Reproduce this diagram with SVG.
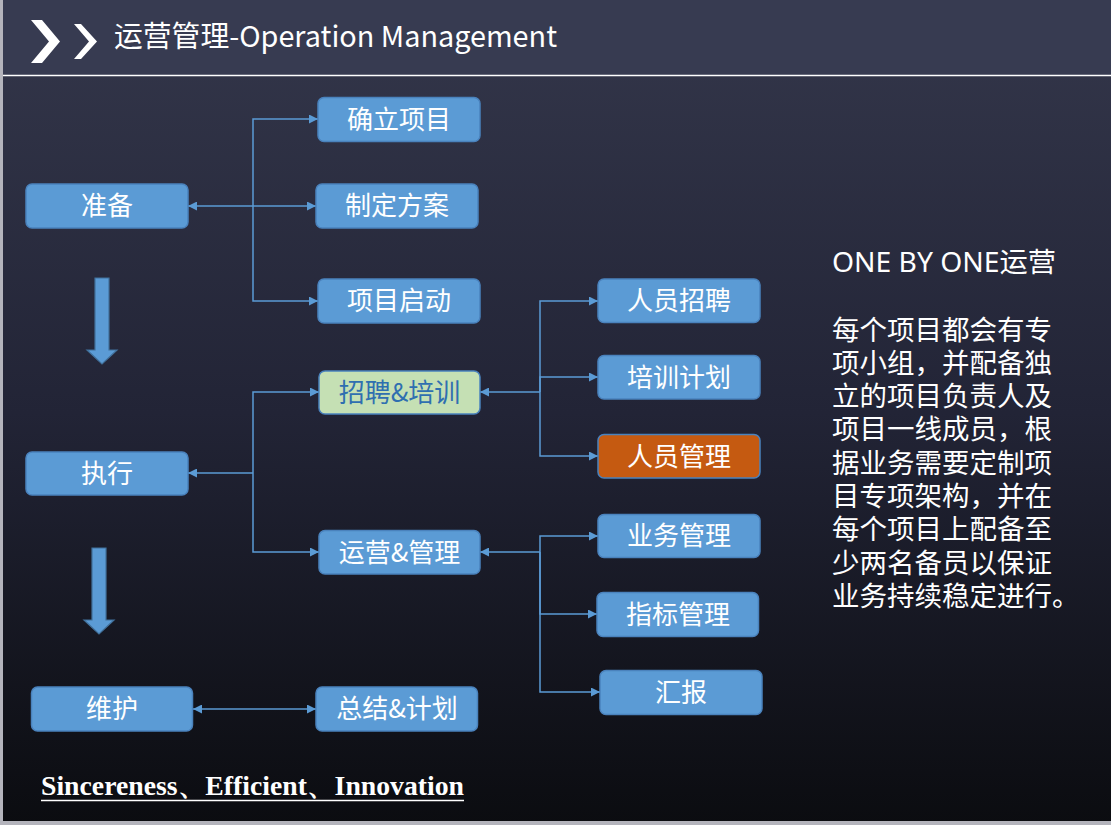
<svg xmlns="http://www.w3.org/2000/svg" width="1111" height="825" viewBox="0 0 1111 825">
<style>
.box{fill:#5b9bd5;stroke:#4a82bd;stroke-width:1.5}
.lbl{font-family:"Noto Sans CJK SC","Noto Sans",sans-serif;font-size:26px;fill:#ffffff;text-anchor:middle}
.con{fill:none;stroke:#5b9bd5;stroke-width:1.5}
.para{font-family:"Liberation Sans","Noto Sans CJK SC",sans-serif;font-size:27.5px;fill:#ffffff}
.down{fill:#5b9bd5;stroke:#41719c;stroke-width:1.2}
</style>
<defs>
<linearGradient id="bg" x1="0" y1="0" x2="0" y2="1">
<stop offset="0" stop-color="#34374b"/>
<stop offset="0.5" stop-color="#222436"/>
<stop offset="1" stop-color="#0b0c10"/>
</linearGradient>
<marker id="ah" viewBox="0 0 10 10" refX="10" refY="5" markerWidth="10" markerHeight="9" orient="auto-start-reverse" markerUnits="userSpaceOnUse">
<path d="M0,0 L10,5 L0,10 z" fill="#5b9bd5"/>
</marker>
</defs>
<rect x="0" y="0" width="1111" height="825" fill="url(#bg)"/>
<rect x="0" y="0" width="1111" height="75" fill="#373b51"/>
<line x1="3" y1="75.5" x2="1111" y2="75.5" stroke="#ffffff" stroke-width="1.5"/>
<rect x="0" y="0" width="3" height="825" fill="#b4b4bc"/>
<rect x="0" y="821" width="1111" height="4" fill="#b4b4bc"/>
<g id="header">
<polygon points="31,20 42,20 60,41.5 42,63 31,63 49,41.5" fill="#ffffff"/>
<polygon points="74,24 81,24 97,41.5 81,59 74,59 89,41.5" fill="#ffffff"/>
<text x="114" y="47" font-family="'Noto Sans CJK SC','Noto Sans',sans-serif" font-size="29" fill="#ffffff" textLength="443" lengthAdjust="spacingAndGlyphs">运营管理-Operation Management</text>
</g>
<g id="connectors">
<line class="con" x1="188" y1="206" x2="316" y2="206" marker-start="url(#ah)" marker-end="url(#ah)"/>
<path class="con" d="M253,206 V119 H318" marker-end="url(#ah)"/>
<path class="con" d="M253,206 V301 H318" marker-end="url(#ah)"/>
<path class="con" d="M253,473 H188" marker-end="url(#ah)"/>
<path class="con" d="M253,473 V392 H319" marker-end="url(#ah)"/>
<path class="con" d="M253,473 V552 H319" marker-end="url(#ah)"/>
<path class="con" d="M540,392 H480" marker-end="url(#ah)"/>
<path class="con" d="M540,392 V301 H598" marker-end="url(#ah)"/>
<path class="con" d="M540,392 V377 H598" marker-end="url(#ah)"/>
<path class="con" d="M540,392 V456 H598" marker-end="url(#ah)"/>
<path class="con" d="M540,552 H480" marker-end="url(#ah)"/>
<path class="con" d="M540,552 V536 H598" marker-end="url(#ah)"/>
<path class="con" d="M540,552 V614 H597" marker-end="url(#ah)"/>
<path class="con" d="M540,552 V692 H600" marker-end="url(#ah)"/>
<line class="con" x1="193" y1="709" x2="316" y2="709" marker-start="url(#ah)" marker-end="url(#ah)"/>
</g>
<g id="arrow-down-1"><polygon class="down" points="95,278 109,278 109,350 117,350 102,364 87,350 95,350"/></g>
<g id="arrow-down-2"><polygon class="down" points="92,548 106,548 106,620 114,620 99,634 84,620 92,620"/></g>
<g id="n-zhunbei"><rect class="box" x="26" y="184" width="162" height="44" rx="6"/><text class="lbl" x="107" y="215">准备</text></g>
<g id="n-queli"><rect class="box" x="318" y="97.5" width="162" height="44" rx="6"/><text class="lbl" x="399" y="128.5">确立项目</text></g>
<g id="n-zhiding"><rect class="box" x="316" y="184" width="162" height="44" rx="6"/><text class="lbl" x="397" y="215">制定方案</text></g>
<g id="n-qidong"><rect class="box" x="318" y="279" width="162" height="44" rx="6"/><text class="lbl" x="399" y="310">项目启动</text></g>
<g id="n-zhixing"><rect class="box" x="26" y="452" width="162" height="43" rx="6"/><text class="lbl" x="107" y="483">执行</text></g>
<g id="n-zhaopin"><rect x="319" y="371" width="161" height="43" rx="6" fill="#c5e0b4" stroke="#4a82bd" stroke-width="1.5"/><text class="lbl" x="399.5" y="401.5" style="fill:#2f6fb0">招聘&amp;培训</text></g>
<g id="n-yunying"><rect class="box" x="319" y="530.5" width="161" height="43.5" rx="6"/><text class="lbl" x="399.5" y="561.5">运营&amp;管理</text></g>
<g id="n-renyuanzp"><rect class="box" x="598" y="279" width="162" height="43.5" rx="6"/><text class="lbl" x="679" y="310">人员招聘</text></g>
<g id="n-peixun"><rect class="box" x="598" y="355.5" width="162" height="43.5" rx="6"/><text class="lbl" x="679" y="386.5">培训计划</text></g>
<g id="n-renyuangl"><rect x="598" y="434.5" width="162" height="43.5" rx="6" fill="#c55a11" stroke="#4a82bd" stroke-width="1.5"/><text class="lbl" x="679" y="465.5">人员管理</text></g>
<g id="n-yewu"><rect class="box" x="598" y="514.5" width="162" height="43" rx="6"/><text class="lbl" x="679" y="545">业务管理</text></g>
<g id="n-zhibiao"><rect class="box" x="597" y="592.5" width="161.5" height="44" rx="6"/><text class="lbl" x="678" y="623.5">指标管理</text></g>
<g id="n-huibao"><rect class="box" x="600" y="670.5" width="162" height="44" rx="6"/><text class="lbl" x="681" y="701.5">汇报</text></g>
<g id="n-weihu"><rect class="box" x="31.5" y="687" width="161" height="44" rx="6"/><text class="lbl" x="112" y="718">维护</text></g>
<g id="n-zongjie"><rect class="box" x="316" y="687" width="161.5" height="44" rx="6"/><text class="lbl" x="397" y="718">总结&amp;计划</text></g>
<g id="side-text">
<text x="832" y="272" font-family="'Noto Sans','Noto Sans CJK SC',sans-serif" font-size="27.5" fill="#ffffff" textLength="224" lengthAdjust="spacingAndGlyphs">ONE BY ONE运营</text>
<text class="para" x="832" y="339.5"><tspan x="832">每个项目都会有专</tspan><tspan x="832" dy="33.3">项小组，并配备独</tspan><tspan x="832" dy="33.3">立的项目负责人及</tspan><tspan x="832" dy="33.3">项目一线成员，根</tspan><tspan x="832" dy="33.3">据业务需要定制项</tspan><tspan x="832" dy="33.3">目专项架构，并在</tspan><tspan x="832" dy="33.3">每个项目上配备至</tspan><tspan x="832" dy="33.3">少两名备员以保证</tspan><tspan x="832" dy="33.3">业务持续稳定进行。</tspan></text>
</g>
<g id="slogan">
<text x="41" y="795" font-family="'Liberation Serif',serif" font-weight="bold" font-size="27" fill="#ffffff" textLength="423" lengthAdjust="spacingAndGlyphs">Sincereness、Efficient、Innovation</text>
<line x1="41" y1="800.5" x2="464" y2="800.5" stroke="#ffffff" stroke-width="1.5"/>
</g>
</svg>
